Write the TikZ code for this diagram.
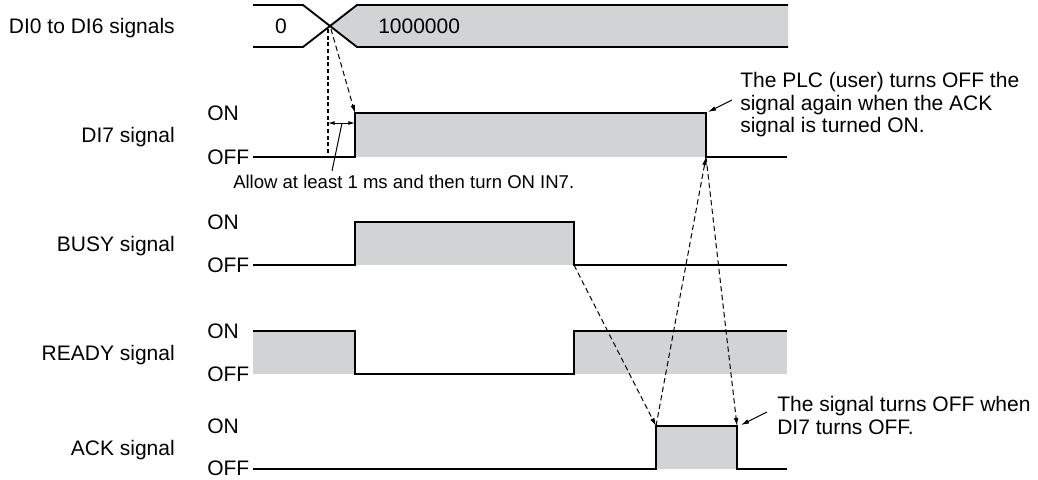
\documentclass[tikz,border=0pt]{standalone}
\usepackage{fontspec}
\setmainfont{Liberation Sans}
\usetikzlibrary{arrows.meta}
\definecolor{sig}{RGB}{209,211,212}
\begin{document}
\begin{tikzpicture}[x=0.75pt,y=-0.75pt,
  lbl/.style={font=\fontsize{15.75}{17}\selectfont, inner sep=0pt},
  note/.style={font=\fontsize{15.75}{17}\selectfont, inner sep=0pt, align=left},
  small/.style={font=\fontsize{13.9}{16}\selectfont, inner sep=0pt},
  wave/.style={line width=1.4pt, line join=miter},
  dep/.style={line width=0.75pt, dash pattern=on 4pt off 2.5pt, -{Latex[length=6pt,width=3.5pt]}},
  thickdash/.style={line width=2pt, dash pattern=on 3pt off 2pt},
  lead/.style={line width=0.75pt, -{Latex[length=6pt,width=3.5pt]}},
  dim/.style={line width=0.75pt, {Latex[length=5pt,width=3pt]}-{Latex[length=5pt,width=3pt]}}]
\useasboundingbox (0,0) rectangle (1038,479);

% key coordinates
\coordinate (busx) at (330,26);
\coordinate (di7r) at (355,113);
\coordinate (di7rb) at (355,157);
\coordinate (di7f) at (706,113);
\coordinate (di7fb) at (706,157);
\coordinate (busyf) at (574,265);
\coordinate (ackr) at (656,426);
\coordinate (ackf) at (737,426);

% ---------- DI0 to DI6 bus ----------
\fill[sig] (busx) -- (357,5) -- (788,5) -- (788,47) -- (357,47) -- cycle;
\draw[wave] (253,5) -- (303,5) -- (357,47) -- (788,47);
\draw[wave] (253,47) -- (303,47) -- (357,5) -- (788,5);
\node[lbl] (v0) at (281,26) {0};
\node[lbl, anchor=base west] (v1) at (378,33) {1000000};

% ---------- DI7 ----------
\fill[sig] (355,113) rectangle (706,157);
\draw[wave] (253,157) -- (di7rb) -- (di7r) -- (di7f) -- (di7fb) -- (787,157);

% ---------- BUSY ----------
\fill[sig] (355,222) rectangle (574,265);
\draw[wave] (253,265) -- (355,265) -- (355,222) -- (574,222) -- (busyf) -- (787,265);

% ---------- READY ----------
\fill[sig] (253,331) rectangle (355,374);
\fill[sig] (574,331) rectangle (787,374);
\draw[wave] (253,331) -- (355,331) -- (355,374) -- (574,374) -- (574,331) -- (787,331);

% ---------- ACK ----------
\fill[sig] (656,426) rectangle (737,469);
\draw[wave] (253,469) -- (656,469) -- (ackr) -- (ackf) -- (737,469) -- (787,469);

% ---------- signal names ----------
\node[lbl, anchor=base east] (nbus) at (175,33) {DI0 to DI6 signals};
\node[lbl, anchor=base east] (ndi7) at (175,142) {DI7 signal};
\node[lbl, anchor=base east] (nbusy) at (175,251) {BUSY signal};
\node[lbl, anchor=base east] (nready) at (175,360) {READY signal};
\node[lbl, anchor=base east] (nack) at (175,455) {ACK signal};

% ---------- ON / OFF labels ----------
\node[lbl, anchor=base west] (on1) at (207,120) {ON};
\node[lbl, anchor=base west] (off1) at (207,164) {OFF};
\node[lbl, anchor=base west] (on2) at (207,229) {ON};
\node[lbl, anchor=base west] (off2) at (207,272) {OFF};
\node[lbl, anchor=base west] (on3) at (207,338) {ON};
\node[lbl, anchor=base west] (off3) at (207,381) {OFF};
\node[lbl, anchor=base west] (on4) at (207,433) {ON};
\node[lbl, anchor=base west] (off4) at (207,475) {OFF};

% ---------- timing dependencies ----------
\coordinate (vtop) at (328,29);
\coordinate (vbot) at (328,157);
\draw[thickdash] (vtop) -- (vbot);
\draw[dep] (331,29) -- (di7r);
\coordinate (dimA) at (328,123);
\coordinate (dimB) at (355,123);
\draw[dim] (dimA) -- (dimB);
\node[small, anchor=base west] (allow) at (233,188) {Allow at least 1 ms and then turn ON IN7.};
\coordinate (allowtip) at (342,123);
\draw[line width=0.75pt] (332,171) -- (allowtip);

\draw[dep] (busyf) -- (ackr);
\draw[dep] (ackr) -- (di7fb);
\draw[dep] (di7fb) -- (ackf);

% ---------- annotations ----------
\node[note, anchor=north west] (plc) at (740,72)
  {The PLC (user) turns OFF the\\signal again when the ACK\\signal is turned ON.};
\coordinate (plctail) at (732,100);
\draw[lead] (plctail) -- (708,112);

\node[note, anchor=north west] (acknote) at (777,396)
  {The signal turns OFF when\\DI7 turns OFF.};
\coordinate (acktail) at (767,412);
\draw[lead] (acktail) -- (741,425);
\end{tikzpicture}
\end{document}
